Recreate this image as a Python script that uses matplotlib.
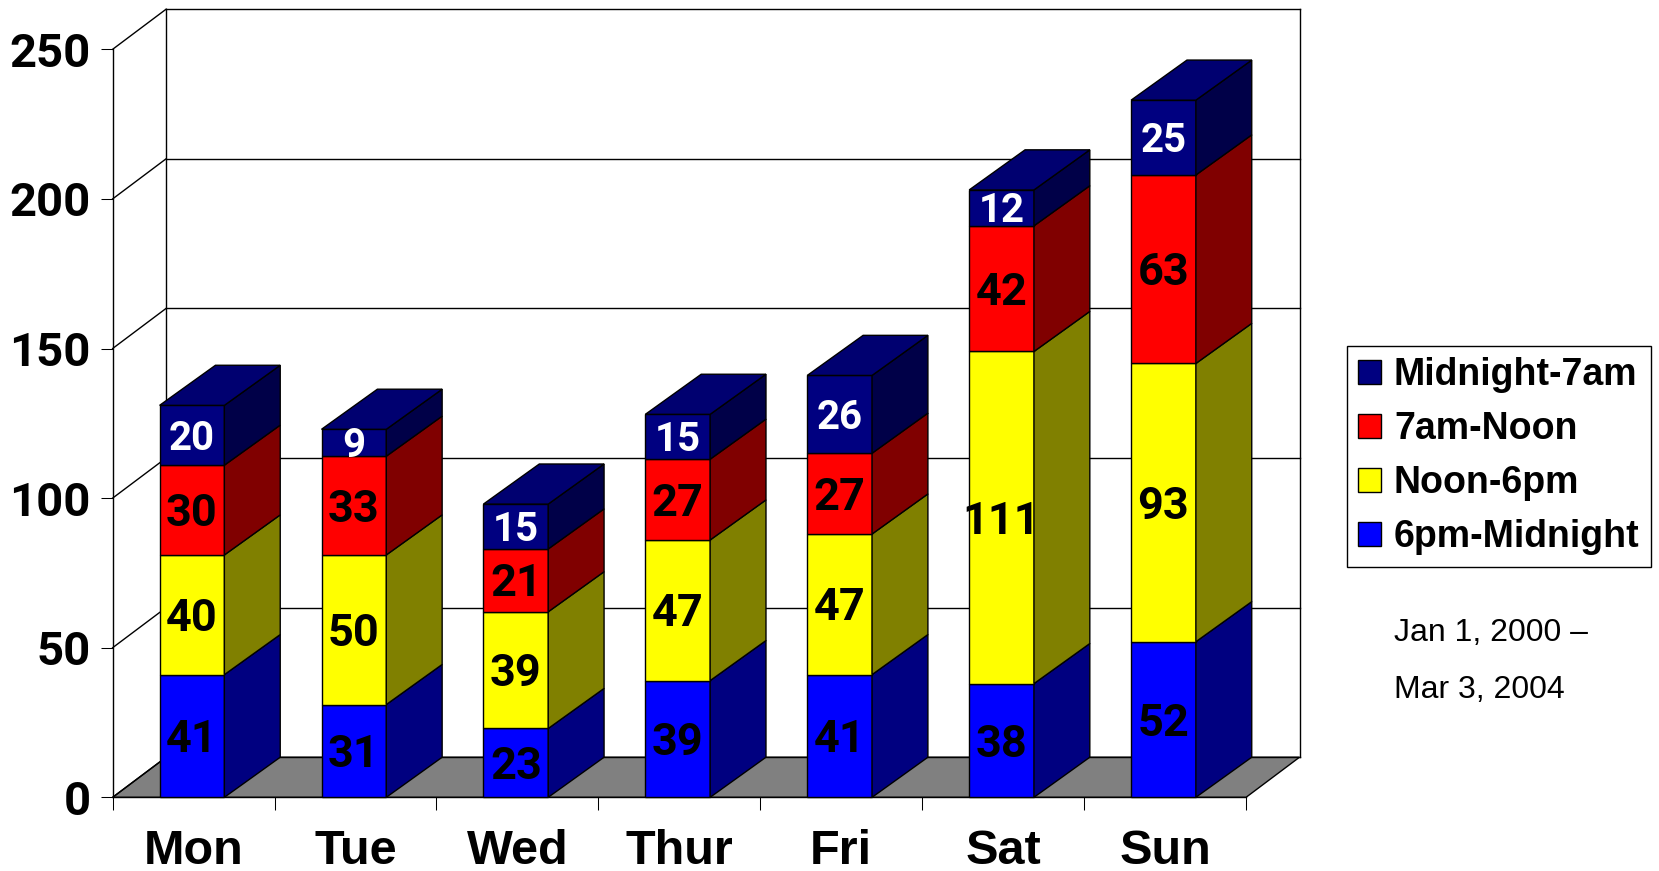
import matplotlib.pyplot as plt
from matplotlib.patches import Polygon, Patch
from matplotlib.transforms import offset_copy

plt.rcParams['font.family'] = ['Liberation Sans', 'DejaVu Sans']
num_font = ['Roboto', 'Liberation Sans', 'DejaVu Sans']  # "1" without a foot, like Arial

days = ["Mon", "Tue", "Wed", "Thur", "Fri", "Sat", "Sun"]
late = [41, 31, 23, 39, 41, 38, 52]        # 6pm-Midnight
afternoon = [40, 50, 39, 47, 47, 111, 93]  # Noon-6pm
morning = [30, 33, 21, 27, 27, 42, 63]     # 7am-Noon
night = [20, 9, 15, 15, 26, 12, 25]        # Midnight-7am
series = [late, afternoon, morning, night]
names = ["6pm-Midnight", "Noon-6pm", "7am-Noon", "Midnight-7am"]
front = ["#0000ff", "#ffff00", "#ff0000", "#000080"]
side = ["#000080", "#808000", "#800000", "#000048"]
top_col = "#000070"
txt_col = ["black", "black", "black", "white"]
txt_size = [32.5, 32.5, 32.5, 29]
yticks = [0, 50, 100, 150, 200, 250]

# fake 3d offsets (slots / value units)
fdx, bdx, dy = 0.33, 0.345, 13.4
bw, boff = 0.40, 0.29
lw = 1.0

fig = plt.figure(figsize=(16.59, 8.71), dpi=100)
ax = fig.add_axes([0.0679, 0.0846, 0.6832, 0.8588])
ax.set_xlim(0, 7)
ax.set_ylim(0, 250)
for s in ["top", "right"]:
    ax.spines[s].set_visible(False)
ax.spines["left"].set_linewidth(lw)
ax.spines["bottom"].set_linewidth(lw)
ax.patch.set_visible(False)

# floor
ax.add_patch(Polygon([(0, 0), (7, 0), (7 + fdx, dy), (fdx, dy)], fc="#808080", ec="k", lw=lw, zorder=1, clip_on=False))
# back wall + left wall lines
for v in yticks:
    ax.plot([fdx, 7 + fdx], [v + dy, v + dy], color="k", lw=lw, zorder=1, clip_on=False)
    ax.plot([0, fdx], [v, v + dy], color="k", lw=lw, zorder=1, clip_on=False)
ax.plot([fdx, fdx], [dy, 250 + dy], color="k", lw=lw, zorder=1, clip_on=False)
ax.plot([7 + fdx, 7 + fdx], [dy, 250 + dy], color="k", lw=lw, zorder=1, clip_on=False)

for i in range(len(days)):
    x0 = i + boff
    x1 = x0 + bw
    base = 0
    for k, vals in enumerate(series):
        y0, y1 = base, base + vals[i]
        ax.add_patch(Polygon([(x0, y0), (x1, y0), (x1, y1), (x0, y1)], fc=front[k], ec="k", lw=lw, zorder=4, clip_on=False))
        ax.add_patch(Polygon([(x1, y0), (x1 + bdx, y0 + dy), (x1 + bdx, y1 + dy), (x1, y1)], fc=side[k], ec="k", lw=lw, zorder=4, clip_on=False))
        if k == len(series) - 1:
            ax.add_patch(Polygon([(x0, y1), (x1, y1), (x1 + bdx, y1 + dy), (x0 + bdx, y1 + dy)], fc=top_col, ec="k", lw=lw, zorder=4, clip_on=False))
        # put the baseline half a cap height below the segment middle
        tr = offset_copy(ax.transData, fig=fig, y=-0.356 * txt_size[k], units="points")
        ax.text((x0 + x1) / 2, (y0 + y1) / 2, str(vals[i]), ha="center", va="baseline", fontsize=txt_size[k],
                fontweight="bold", color=txt_col[k], zorder=5, transform=tr, family=num_font)
        base = y1

ax.set_yticks(yticks)
ax.set_yticklabels([str(v) for v in yticks], fontsize=34, fontweight="bold", family=num_font)
ax.set_xticks(range(8))
ax.set_xticklabels([""] * 8)
ax.set_xticks([i + 0.5 for i in range(7)], minor=True)
ax.set_xticklabels(days, minor=True, fontsize=35, fontweight="bold")
ax.tick_params(axis="both", which="major", direction="out", length=9, width=lw * 0.75)
ax.tick_params(axis="y", pad=7)
ax.tick_params(axis="x", which="minor", length=0, pad=23)

handles = [Patch(fc=front[k], ec="k", lw=lw) for k in range(3, -1, -1)]
leg = fig.legend(handles, names[::-1], loc="upper left", bbox_to_anchor=(1347 / 1659, 1 - 346 / 871),
                 frameon=True, fancybox=False, edgecolor="k", framealpha=1, borderpad=0.3,
                 handlelength=0.6, handleheight=0.6, handletextpad=0.35, labelspacing=0.48,
                 borderaxespad=0, prop={"size": 27, "weight": "bold"})
leg.get_frame().set_linewidth(lw)

fig.text(1394 / 1659, 1 - 640.7 / 871, "Jan 1, 2000 \u2013", fontsize=23, va="baseline")
fig.text(1394 / 1659, 1 - 698.3 / 871, "Mar 3, 2004", fontsize=23, va="baseline")

fig.savefig("out.png", dpi=100)
